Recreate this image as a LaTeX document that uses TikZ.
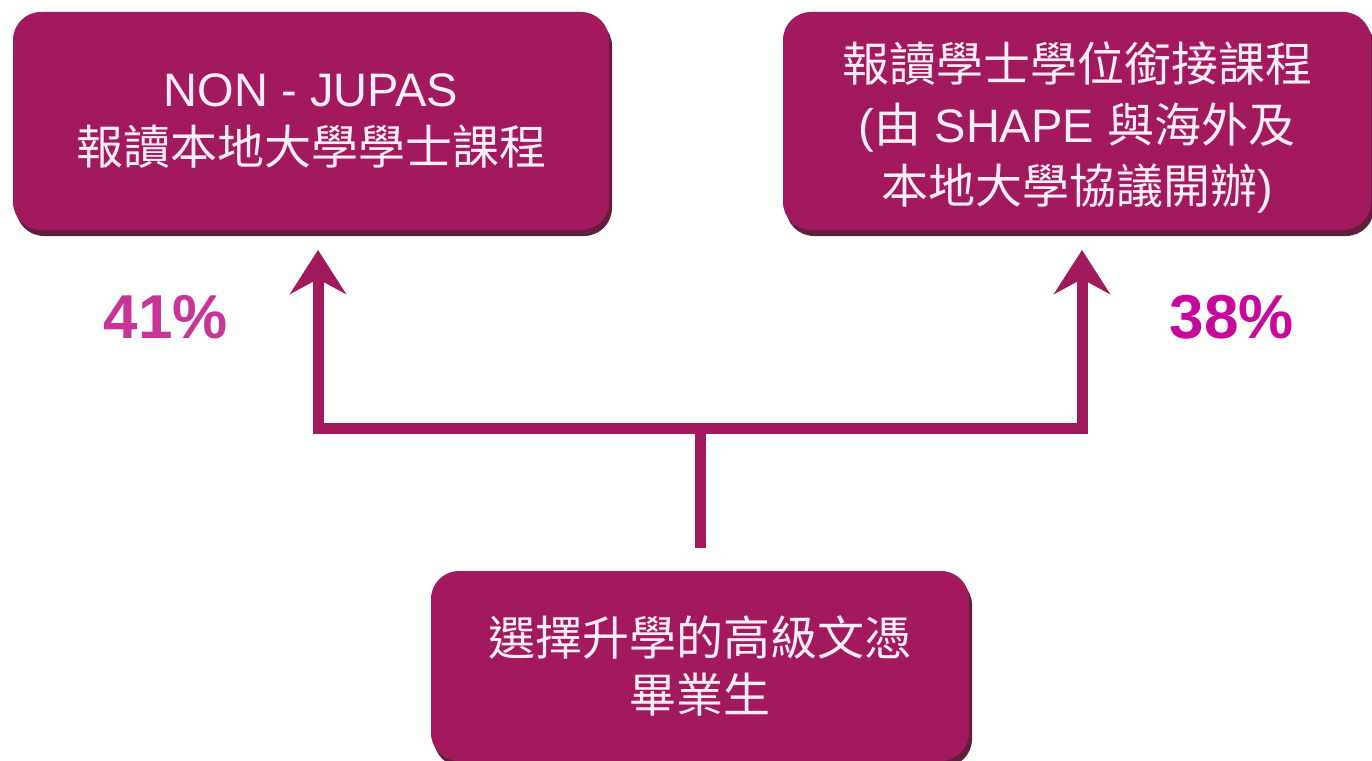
\documentclass[tikz,border=0pt]{standalone}
\usepackage{fontspec}
\setmainfont{Liberation Sans}
\newfontfamily\cjk{Noto Sans CJK TC}
\usetikzlibrary{arrows.meta,shadows}
\definecolor{boxfill}{RGB}{163,25,93}
\definecolor{boxshade}{RGB}{80,6,40}
\definecolor{linecol}{RGB}{160,26,92}
\definecolor{pctA}{RGB}{200,52,152}
\definecolor{pctB}{RGB}{200,8,154}
\definecolor{txt}{RGB}{255,238,248}
\begin{document}
\begin{tikzpicture}[x=1pt,y=-1pt,
  box/.style={rectangle, rounded corners=28pt, fill=boxfill, text=txt,
    align=center, inner sep=0pt,
    drop shadow={shadow xshift=3pt, shadow yshift=-6pt, fill=boxshade, opacity=0.9},
    font=\fontsize{47}{58}\selectfont},
  conn/.style={draw=linecol, line width=11pt, line join=miter},
  arr/.style={conn, -{Stealth[length=44pt,width=56pt,inset=15pt]}},
  pct/.style={font=\fontsize{62}{62}\bfseries\selectfont, inner sep=0pt}]
\useasboundingbox (0,0) rectangle (1372,760);
\fill[white] (0,0) rectangle (1372,760);
\node[box, minimum width=596pt, minimum height=218pt] (a) at (311,121)
  {NON - JUPAS\\{\cjk 報讀本地大學學士課程}};
\node[box, minimum width=588pt, minimum height=218pt, font=\fontsize{47}{61}\selectfont] (c) at (1077,121)
  {\rule{0pt}{52pt}{\cjk 報讀學士學位銜接課程}\\({\cjk 由} SHAPE {\cjk 與海外及}\\{\cjk 本地大學協議開辦})};
\node[box, minimum width=538pt, minimum height=190pt, font=\fontsize{47}{57}\selectfont] (b) at (700,666)
  {{\cjk 選擇升學的高級文憑}\\{\cjk 畢業生}};
\coordinate (j) at (700,428);
\coordinate (aL) at (318,230);
\coordinate (cR) at (1082,230);
\draw[conn, shorten <=23pt] (b.north) -- (j);
\draw[arr, shorten >=20pt] (j) -| (aL);
\draw[arr, shorten >=20pt] (j) -| (cR);
\node[pct, text=pctA, anchor=base] (p1) at (166,338) {41\%};
\node[pct, text=pctB, anchor=base] (p2) at (1232,338) {38\%};
\end{tikzpicture}
\end{document}
